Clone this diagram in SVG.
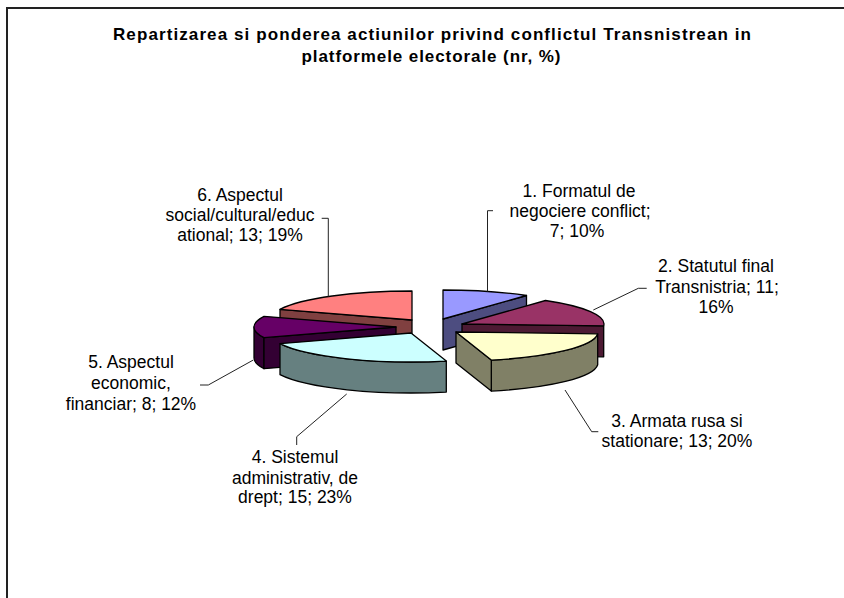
<svg xmlns="http://www.w3.org/2000/svg" width="844" height="598" viewBox="0 0 844 598">
<style>
.t{font-family:"Liberation Sans",Arial,sans-serif;fill:#000}
.title{font-size:17px;font-weight:bold;text-anchor:middle}
.lbl{font-size:17.5px;text-anchor:middle}
.edge{stroke:#000;stroke-width:1.3;stroke-linejoin:round}
.lead{fill:none;stroke:#222;stroke-width:1}
</style>
<rect x="0" y="0" width="844" height="598" fill="#fff"/>
<path d="M7,598 V8 H844" fill="none" stroke="#222" stroke-width="2"/>
<g id="title">
<text class="t title" x="432" y="40" textLength="638" lengthAdjust="spacing">Repartizarea si ponderea actiunilor privind conflictul Transnistrean in</text>
<text class="t title" x="431" y="62" textLength="259" lengthAdjust="spacing">platformele electorale (nr, %)</text>
</g>
<g id="slice6">
<path class="edge" fill="#804040" d="M412,320 L280,309.3 L280,340.3 L412,351 Z"/>
<path class="edge" fill="#FF8080" d="M412,320 L280,309.3 A142,29 0 0 1 412,291 Z"/>
</g>
<g id="slice1">
<path class="edge" fill="#4D4D80" d="M443,319 L526.5,295.5 L526.5,326.5 L443,350 Z"/>
<path class="edge" fill="#9999FF" d="M443,319 L443,290 A142,29 0 0 1 526.5,295.5 Z"/>
</g>
<g id="slice5">
<path class="edge" fill="#330033" d="M264,337.7 A142,29 0 0 1 254,327 L254,358 A142,29 0 0 0 264,368.7 Z"/>
<path class="edge" fill="#330033" d="M396,327 L264,337.7 L264,368.7 L396,358 Z"/>
<path class="edge" fill="#660066" d="M396,327 L264,337.7 A142,29 0 0 1 264,316.3 Z"/>
</g>
<g id="slice2">
<path class="edge" fill="#4D1A33" d="M462,324 L603.7,325.8 L603.7,356.8 L462,355 Z"/>
<path class="edge" fill="#993366" d="M462,324 L545.5,300.5 A142,29 0 0 1 603.7,325.8 Z"/>
</g>
<g id="slice3">
<path class="edge" fill="#808066" d="M597.7,333.8 A142,29 0 0 1 491.3,360.1 L491.3,391.1 A142,29 0 0 0 597.7,364.8 Z"/>
<path class="edge" fill="#808066" d="M456,332 L491.3,360.1 L491.3,391.1 L456,363 Z"/>
<path class="edge" fill="#FFFFCC" d="M456,332 L597.7,333.8 A142,29 0 0 1 491.3,360.1 Z"/>
</g>
<g id="slice4">
<path class="edge" fill="#668080" d="M446.3,361.1 A142,29 0 0 1 280,343.7 L280,374.7 A142,29 0 0 0 446.3,392.1 Z"/>
<path class="edge" fill="#CCFFFF" d="M411,333 L446.3,361.1 A142,29 0 0 1 280,343.7 Z"/>
</g>
<g id="connectors">
<path class="lead" d="M493,210.7 H487.5 V291.5"/>
<path class="lead" d="M593.3,310 L638.3,288.3 H646.7"/>
<path class="lead" d="M565,390 L591.7,431.7 H598.3"/>
<path class="lead" d="M346.7,394 L296.7,436.7 V445"/>
<path class="lead" d="M253.3,360 L208.3,385 H200"/>
<path class="lead" d="M321.7,218.3 H328.3 V296.6"/>
</g>
<g id="label1">
<text class="t lbl" x="579" y="197">1. Formatul de</text>
<text class="t lbl" x="580" y="217">negociere conflict;</text>
<text class="t lbl" x="577" y="237">7; 10%</text>
</g>
<g id="label2">
<text class="t lbl" x="716" y="272">2. Statutul final</text>
<text class="t lbl" x="717" y="292.5">Transnistria; 11;</text>
<text class="t lbl" x="716" y="313">16%</text>
</g>
<g id="label3">
<text class="t lbl" x="677" y="427">3. Armata rusa si</text>
<text class="t lbl" x="677" y="447">stationare; 13; 20%</text>
</g>
<g id="label4">
<text class="t lbl" x="295" y="463">4. Sistemul</text>
<text class="t lbl" x="295" y="483.5">administrativ, de</text>
<text class="t lbl" x="295" y="503">drept; 15; 23%</text>
</g>
<g id="label5">
<text class="t lbl" x="131" y="368">5. Aspectul</text>
<text class="t lbl" x="131" y="389">economic,</text>
<text class="t lbl" x="131" y="410">financiar; 8; 12%</text>
</g>
<g id="label6">
<text class="t lbl" x="240" y="201">6. Aspectul</text>
<text class="t lbl" x="240" y="221">social/cultural/educ</text>
<text class="t lbl" x="240" y="241">ational; 13; 19%</text>
</g>
</svg>
